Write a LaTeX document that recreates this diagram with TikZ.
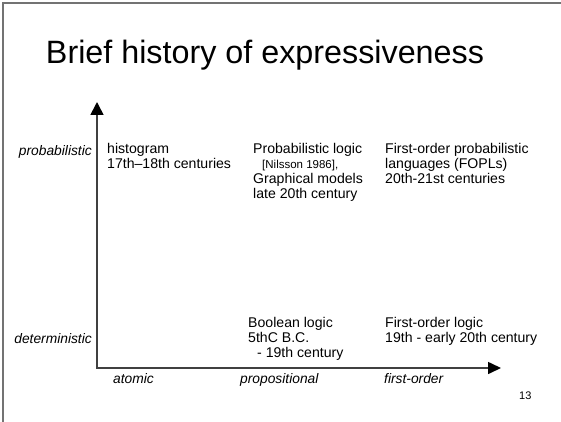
\documentclass[tikz,border=0pt]{standalone}
\usepackage{fontspec}
\setmainfont{Liberation Sans}
\usetikzlibrary{arrows.meta}
\begin{document}
\begin{tikzpicture}[x=1pt,y=-1pt,
  body/.style={font=\fontsize{14.1}{15}\selectfont, inner sep=0pt, anchor=north west, align=left},
  axislabel/.style={font=\fontsize{13.8}{15}\selectfont\itshape, inner sep=0pt},
  axisline/.style={line width=1.6pt, draw=black!75,
    {Triangle[length=13pt,width=13pt,color=black]}-{Triangle[length=13pt,width=12pt,color=black]}},
  frameline/.style={line width=1.5pt, draw=black!55}]
\useasboundingbox (0,0) rectangle (561,422);
\coordinate (bl) at (3,422);
\coordinate (tl) at (3,3);
\coordinate (tr) at (561,3);
\draw[frameline] (bl) -- (tl) -- (tr);
\node[font=\fontsize{32.3}{36}\selectfont, anchor=base, inner sep=0pt] (title) at (265,64) {Brief history of expressiveness};
\coordinate (O) at (97,368);
\coordinate (ytip) at (97,102);
\coordinate (xtip) at (501,368);
\draw[axisline] (ytip) -- (O) -- (xtip);
\node[axislabel, anchor=base east] (prob) at (92,155) {probabilistic};
\node[axislabel, anchor=base east] (det) at (92,343) {deterministic};
\node[axislabel, anchor=base west] (atomic) at (113,383) {atomic};
\node[axislabel, anchor=base west] (propo) at (240,383) {propositional};
\node[axislabel, anchor=base west] (fo) at (384,383) {first-order};
\node[body] (hist) at (107,143) {histogram\\17th–18th centuries};
\node[body] (plogic) at (253,143) {Probabilistic logic\\{\fontsize{11.5}{15}\selectfont\hspace*{9pt}[Nilsson 1986],}\\Graphical models\\late 20th century};
\node[body] (fopl) at (385,143) {First-order probabilistic\\languages (FOPLs)\\20th-21st centuries};
\node[body] (bool) at (248,317) {Boolean logic\\5thC B.C.\\\hspace*{9pt}- 19th century};
\node[body] (fol) at (385,317) {First-order logic\\19th - early 20th century};
\node[font=\fontsize{11}{12}\selectfont, anchor=base west, inner sep=0pt] (pagenum) at (519,399) {13};
\end{tikzpicture}
\end{document}
